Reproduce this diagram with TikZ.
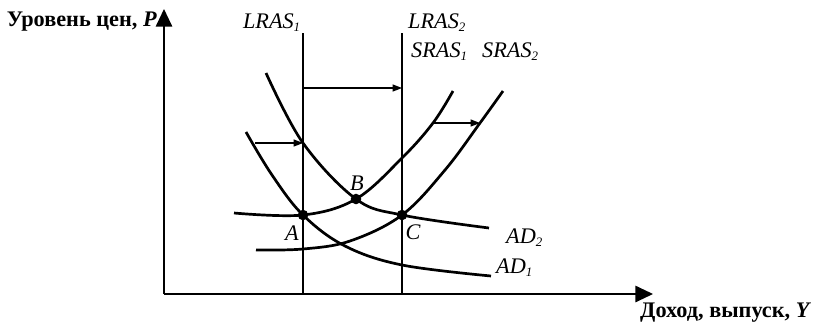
\documentclass[tikz,border=0pt]{standalone}
\usepackage{fontspec}
\setmainfont{Liberation Serif}
\usepackage{tikz}
\usetikzlibrary{arrows.meta,calc,positioning}
\newcommand{\idx}[1]{\textsubscript{\fontsize{11}{11}\selectfont #1}}
\tikzset{
  axis/.style={line width=1.2pt,-{Triangle[length=15pt,width=14pt]}},
  curve/.style={line width=2.3pt},
  lras/.style={line width=2.2pt},
  shiftarrow/.style={line width=1pt,-{Triangle[length=8pt,width=6pt]}},
  dot/.style={circle,fill=black,inner sep=0pt,minimum size=9pt},
  curvelabel/.style={font=\fontsize{19}{22}\selectfont\itshape,inner sep=0pt},
  axislabel/.style={font=\fontsize{19}{22}\selectfont\bfseries,inner sep=0pt}
}

\begin{document}
\begin{tikzpicture}[x=0.3mm,y=-0.3mm]
  \useasboundingbox (0,0) rectangle (817,326);
  % axes
  \coordinate (O) at (164,294);
  \coordinate (ytip) at (164,9);
  \coordinate (xtip) at (653,294);
  \draw[axis] (O) -- (ytip);
  \draw[axis] (O) -- (xtip);
  \node[axislabel,anchor=base east] (ylab) at (157,26) {Уровень цен, \textit{P}};
  \node[axislabel,anchor=base west] (xlab) at (640,317) {Доход, выпуск, \textit{Y}};
  % long-run supply
  \coordinate (l1top) at (303,33);
  \coordinate (l1bot) at (303,294);
  \coordinate (l2top) at (402,33);
  \coordinate (l2bot) at (402,294);
  \draw[lras] (l1top) -- (l1bot);
  \draw[lras] (l2top) -- (l2bot);
  \node[curvelabel,anchor=base east] (lras1) at (301,28) {LRAS\idx{1}};
  \node[curvelabel,anchor=base west] (lras2) at (408,28) {LRAS\idx{2}};
  % equilibrium points
  \coordinate (A) at (303,215);
  \coordinate (B) at (356,199);
  \coordinate (C) at (402,215);
  % demand
  \draw[curve] plot[smooth,tension=0.6] coordinates
    {(246,132) (272,175) (A) (345,246) (402,265) (491,276)};
  \coordinate (ad2mid) at (303,143);
  \draw[curve] plot[smooth,tension=0.6] coordinates
    {(266,73) (ad2mid) (B) (C) (489,228)};
  \node[curvelabel,anchor=base west] (ad2) at (506,243) {AD\idx{2}};
  \node[curvelabel,anchor=base west] (ad1) at (496,273) {AD\idx{1}};
  % short-run supply
  \coordinate (s1mid) at (433,123);
  \coordinate (s2mid) at (480,123);
  \draw[curve] plot[smooth,tension=0.6] coordinates
    {(234,213) (A) (B) (402,158) (s1mid) (453,91)};
  \draw[curve] plot[smooth,tension=0.6] coordinates
    {(256,250) (303,249) (350,241) (C) (445,170) (s2mid) (503,91)};
  \node[curvelabel,anchor=base west] (sras1) at (411,57) {SRAS\idx{1}};
  \node[curvelabel,anchor=base west] (sras2) at (482,57) {SRAS\idx{2}};
  % shifts
  \coordinate (adfrom) at (255,143);
  \coordinate (lfrom) at (303,88);
  \coordinate (lto) at (402,88);
  \draw[shiftarrow] (adfrom) -- (ad2mid);
  \draw[shiftarrow] (lfrom) -- (lto);
  \draw[shiftarrow] (s1mid) -- (s2mid);
  % points
  \node[dot] (dA) at (A) {};
  \node[dot] (dB) at (B) {};
  \node[dot] (dC) at (C) {};
  \node[curvelabel] (labA) at (292,233) {A};
  \node[curvelabel] (labB) at (357,183) {B};
  \node[curvelabel] (labC) at (413,232) {C};
\end{tikzpicture}
\end{document}
